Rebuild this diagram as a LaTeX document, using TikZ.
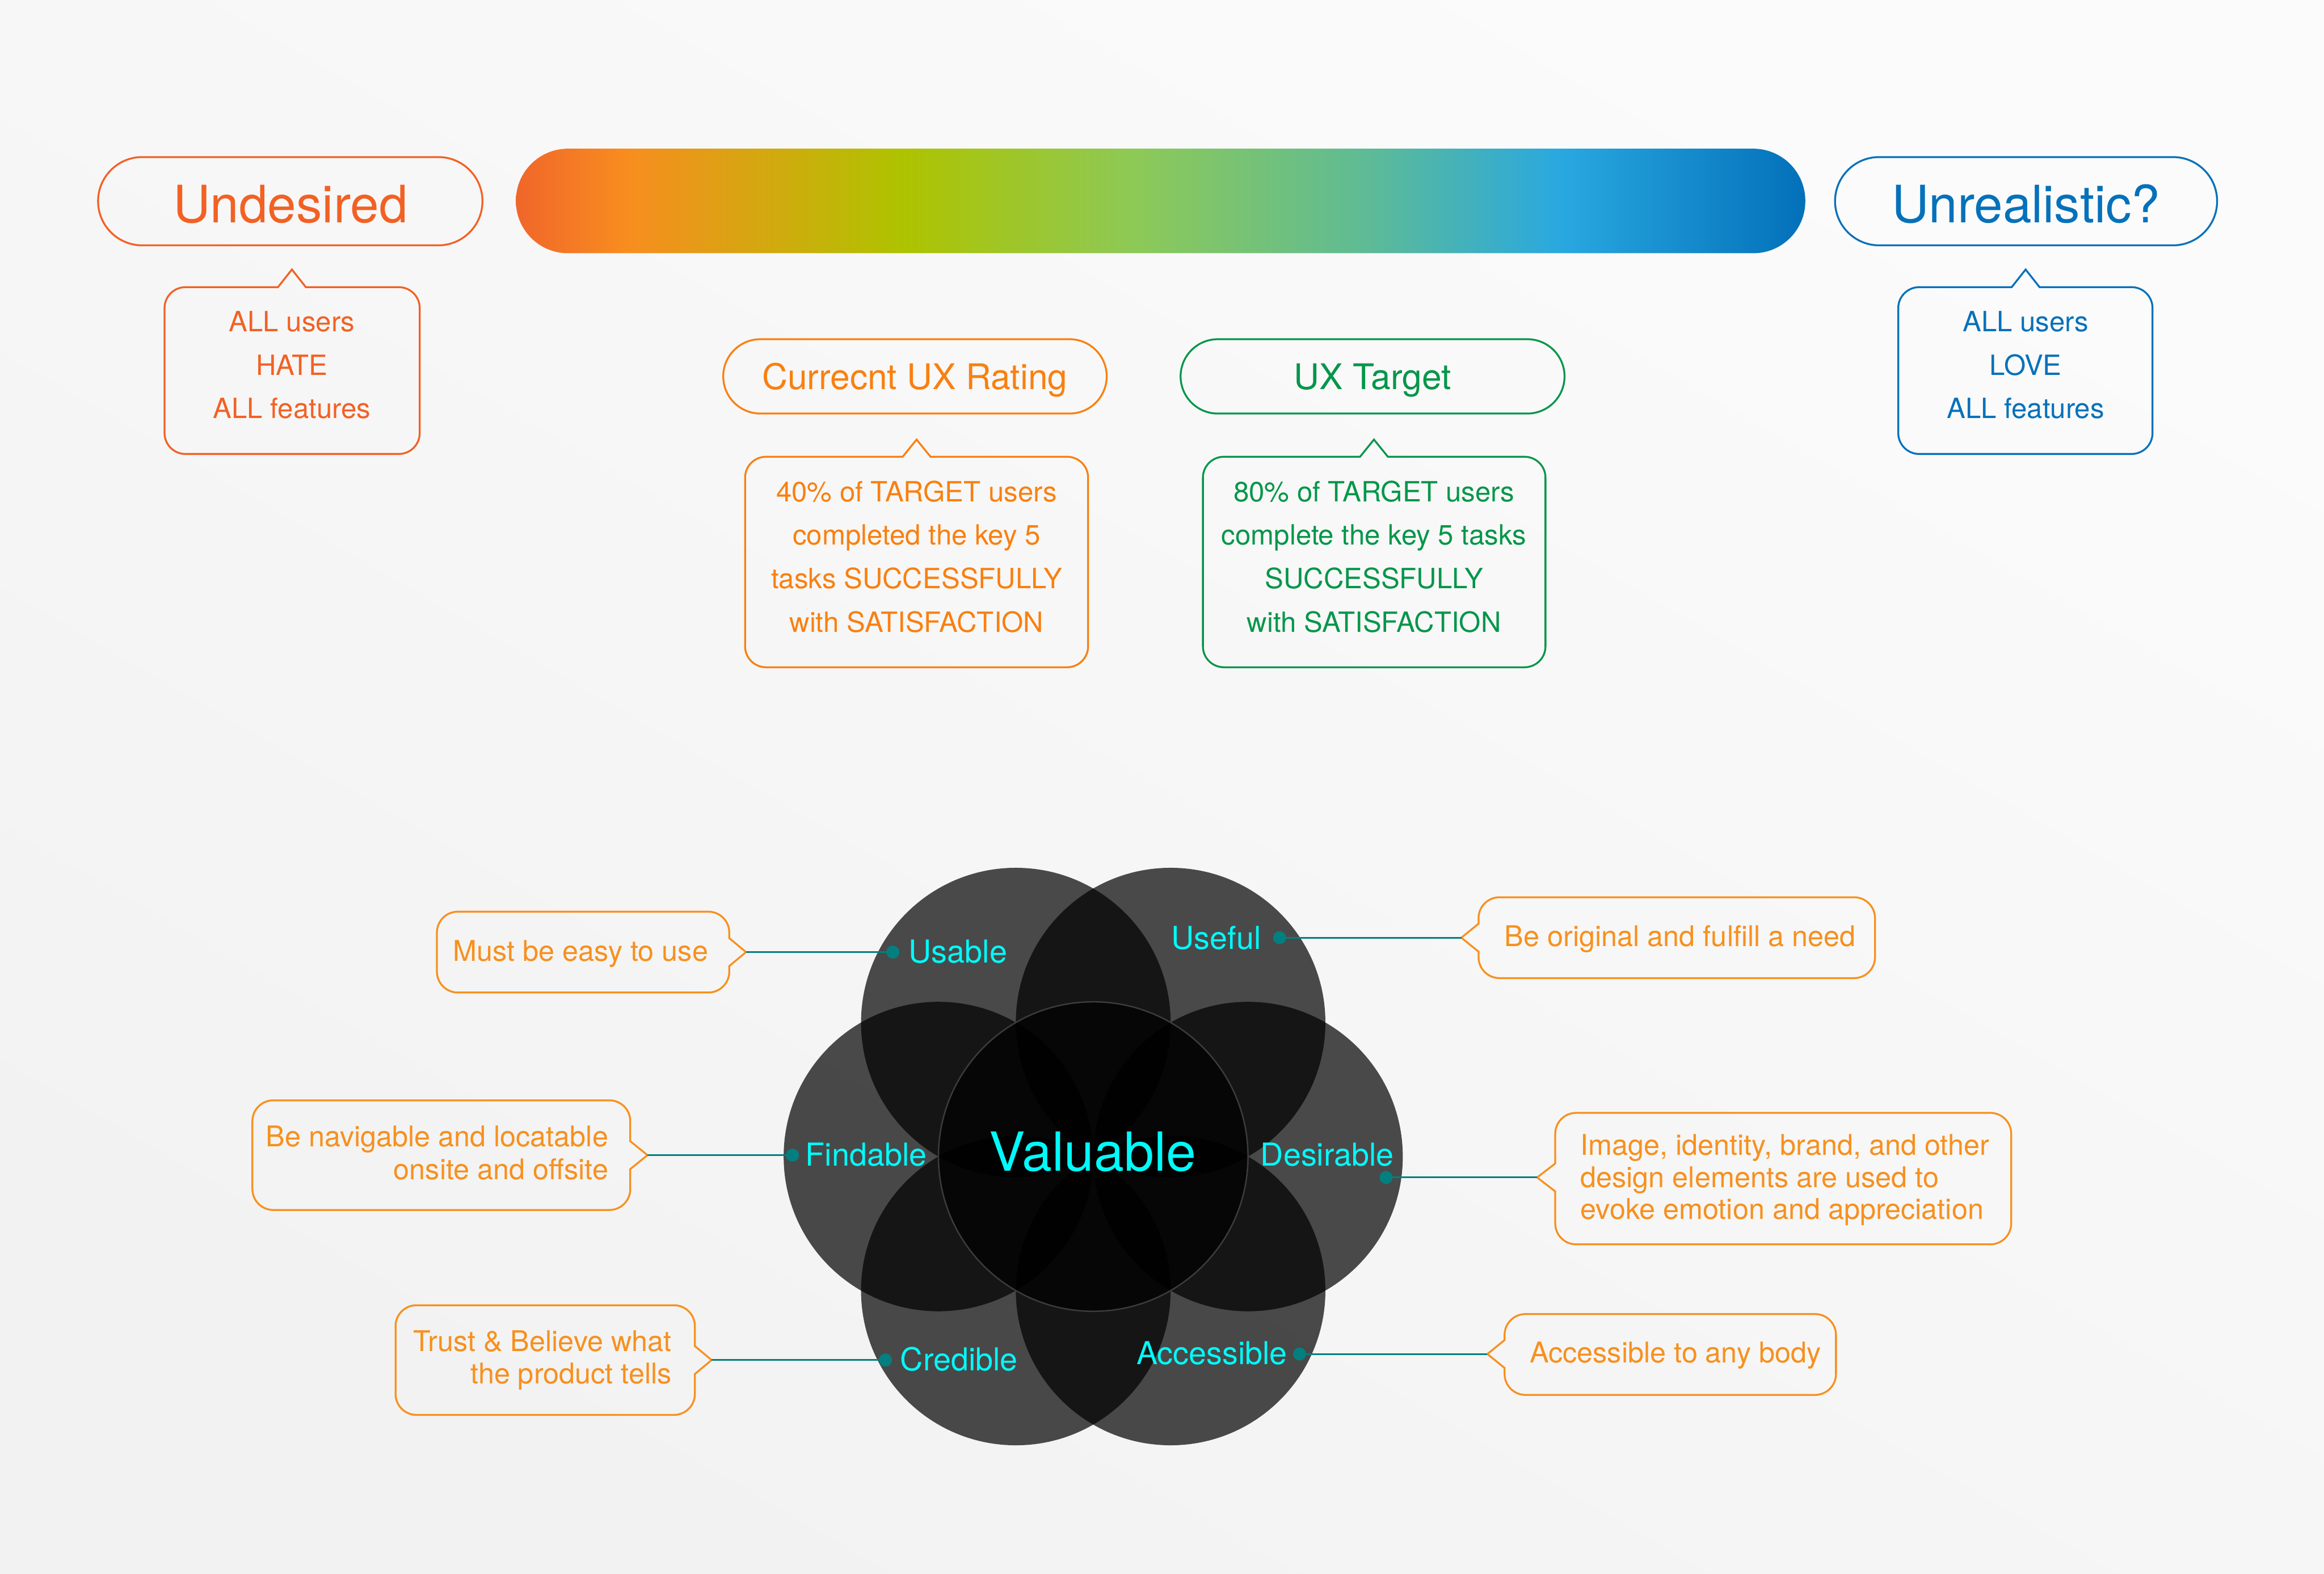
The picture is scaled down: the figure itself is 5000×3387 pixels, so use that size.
\documentclass[tikz,border=0pt]{standalone}
\usepackage{fontspec}
\setmainfont{TeX Gyre Heros}
\definecolor{undred}{HTML}{F26124}
\definecolor{uxblue}{HTML}{0571BA}
\definecolor{curorange}{HTML}{F98010}
\definecolor{uxgreen}{HTML}{05964A}
\definecolor{callor}{HTML}{F7901E}
\definecolor{labcyan}{HTML}{00FAFA}
\definecolor{tealdot}{HTML}{047F7F}
\definecolor{bgT}{HTML}{FBFBFB}
\definecolor{bgB}{HTML}{F2F2F2}
\definecolor{coreline}{HTML}{3C3C3C}
\definecolor{gA}{HTML}{F0662A}
\definecolor{gB}{HTML}{F88D1F}
\definecolor{gC}{HTML}{AEC300}
\definecolor{gD}{HTML}{8DC957}
\definecolor{gE}{HTML}{5EBB96}
\definecolor{gF}{HTML}{29A8E0}
\definecolor{gG}{HTML}{0370BA}
\pgfdeclarehorizontalshading{uxbar}{100bp}{color(0bp)=(gA); color(25bp)=(gA); color(29.3bp)=(gB); color(40bp)=(gC); color(49bp)=(gD); color(58bp)=(gE); color(65.5bp)=(gF); color(75bp)=(gG); color(100bp)=(gG)}
\newcommand\fsz[1]{\fontsize{#1}{#1}\selectfont}
% callout with notch on top: colour, x1,y1,x2,y2, apex x, apex y
\newcommand\CalloutUp[7]{%
  \draw[cline,#1] (#2+45,#3) -- (#6-30,#3) -- (#6,#7) -- (#6+30,#3) -- (#4-45,#3)
    arc[start angle=270,end angle=360,radius=45] -- (#4,#5-45)
    arc[start angle=0,end angle=90,radius=45] -- (#2+45,#5)
    arc[start angle=90,end angle=180,radius=45] -- (#2,#3+45)
    arc[start angle=180,end angle=270,radius=45] -- cycle;}
% callout with pointer on the right side
\newcommand\CalloutRight[7]{%
  \draw[cline,#1] (#2+45,#3) -- (#4-45,#3)
    arc[start angle=270,end angle=360,radius=45] -- (#4,#7-30) -- (#6,#7) -- (#4,#7+30) -- (#4,#5-45)
    arc[start angle=0,end angle=90,radius=45] -- (#2+45,#5)
    arc[start angle=90,end angle=180,radius=45] -- (#2,#3+45)
    arc[start angle=180,end angle=270,radius=45] -- cycle;}
% callout with pointer on the left side
\newcommand\CalloutLeft[7]{%
  \draw[cline,#1] (#2+45,#3) -- (#4-45,#3)
    arc[start angle=270,end angle=360,radius=45] -- (#4,#5-45)
    arc[start angle=0,end angle=90,radius=45] -- (#2+45,#5)
    arc[start angle=90,end angle=180,radius=45] -- (#2,#7+30) -- (#6,#7) -- (#2,#7-30) -- (#2,#3+45)
    arc[start angle=180,end angle=270,radius=45] -- cycle;}
\begin{document}
\begin{tikzpicture}[x=1pt,y=-1pt,
  cline/.style={line width=4pt, line join=miter},
  pillline/.style={line width=4pt},
  title/.style={font=\fsz{111}, inner sep=0, anchor=base},
  sub/.style={font=\fsz{76}, inner sep=0, anchor=base},
  ctext/.style={font=\fsz{60}, inner sep=0, anchor=base},
  btext/.style={font=\fsz{61.5}, inner sep=0, text=callor},
  lab/.style={font=\fsz{68}, inner sep=0, anchor=base west, text=labcyan},
  petal/.style={fill=black, fill opacity=0.7},
  dot/.style={circle, fill=tealdot, inner sep=0, minimum size=28pt},
  conn/.style={draw=tealdot, line width=3.5pt}]
\useasboundingbox (0,0) rectangle (5000,3387);
\shade[top color=bgT, bottom color=bgB, shading angle=-30] (0,0) rectangle (5000,3387);

% gradient bar
\shade[shading=uxbar, rounded corners=112] (1110,320) rectangle (3884,545);

% end pills
\draw[pillline, undred, rounded corners=95] (211,338) rectangle (1038,528);
\node[title, text=undred] (tUnd) at (625,479) {Undesired};
\draw[pillline, uxblue, rounded corners=95] (3948,338) rectangle (4770,528);
\node[title, text=uxblue] (tUnr) at (4359,479) {Unrealistic?};

\CalloutUp{undred}{354}{618}{903}{977}{628}{580}
\node[ctext, text=undred] (und1) at (628,713) {ALL users};
\node[ctext, text=undred] (und2) at (628,807) {HATE};
\node[ctext, text=undred] (und3) at (628,900) {ALL features};

\CalloutUp{uxblue}{4084}{618}{4631}{977}{4358}{580}
\node[ctext, text=uxblue] (unr1) at (4358,713) {ALL users};
\node[ctext, text=uxblue] (unr2) at (4358,807) {LOVE};
\node[ctext, text=uxblue] (unr3) at (4358,900) {ALL features};

% current rating
\draw[pillline, curorange, rounded corners=80] (1556,730) rectangle (2381,890);
\node[sub, text=curorange] (tCur) at (1968,838) {Currecnt UX Rating};
\CalloutUp{curorange}{1603}{983}{2341}{1436}{1972}{946}
\node[ctext, text=curorange] (cur1) at (1972,1080) {40\% of TARGET users};
\node[ctext, text=curorange] (cur2) at (1972,1173) {completed the key 5};
\node[ctext, text=curorange] (cur3) at (1972,1266) {tasks SUCCESSFULLY};
\node[ctext, text=curorange] (cur4) at (1972,1361) {with SATISFACTION};

% target
\draw[pillline, uxgreen, rounded corners=80] (2540,730) rectangle (3366,890);
\node[sub, text=uxgreen] (tTar) at (2953,838) {UX Target};
\CalloutUp{uxgreen}{2588}{983}{3325}{1436}{2956}{946}
\node[ctext, text=uxgreen] (tar1) at (2956,1080) {80\% of TARGET users};
\node[ctext, text=uxgreen] (tar2) at (2956,1173) {complete the key 5 tasks};
\node[ctext, text=uxgreen] (tar3) at (2956,1266) {SUCCESSFULLY};
\node[ctext, text=uxgreen] (tar4) at (2956,1361) {with SATISFACTION};

% flower
\foreach \a in {0,60,...,300}
  \fill[petal] (2352,2489) ++(\a:333) circle[radius=333];
\fill[petal] (2352,2489) circle[radius=333];
\draw[coreline, line width=3pt] (2352,2489) circle[radius=333];

\node[lab] (lUsable) at (1955,2072) {Usable};
\node[lab] (lUseful) at (2520,2043) {Useful};
\node[lab] (lFind) at (1733,2509) {Findable};
\node[lab] (lDes) at (2712,2509) {Desirable};
\node[lab] (lCred) at (1937,2950) {Credible};
\node[lab] (lAcc) at (2445,2936) {Accessible};
\node[font=\fsz{116}, inner sep=0, anchor=base, text=labcyan] (lVal) at (2351,2520) {Valuable};

% dots
\node[dot] (dUsable) at (1921,2049) {};
\node[dot] (dUseful) at (2753,2018) {};
\node[dot] (dFind) at (1705,2486) {};
\node[dot] (dDes) at (2982,2534) {};
\node[dot] (dCred) at (1905,2927) {};
\node[dot] (dAcc) at (2796,2914) {};

% side callouts
\CalloutRight{callor}{940}{1962}{1569}{2136}{1605}{2049}
\coordinate (aUsable) at (1605,2049);
\node[btext, anchor=base west] (cUsable) at (974,2068) {Must be easy to use};

\CalloutRight{callor}{543}{2368}{1356}{2604}{1393}{2486}
\coordinate (aFind) at (1393,2486);
\node[btext, anchor=base east] (cFind1) at (1309,2468) {Be navigable and locatable};
\node[btext, anchor=base east] (cFind2) at (1309,2538) {onsite and offsite};

\CalloutRight{callor}{851}{2809}{1495}{3045}{1531}{2927}
\coordinate (aCred) at (1531,2927);
\node[btext, anchor=base east] (cCred1) at (1445,2908) {Trust \& Believe what};
\node[btext, anchor=base east] (cCred2) at (1445,2978) {the product tells};

\CalloutLeft{callor}{3181}{1931}{4034}{2105}{3144}{2018}
\coordinate (aUseful) at (3144,2018);
\node[btext, anchor=base west] (cUseful) at (3237,2037) {Be original and fulfill a need};

\CalloutLeft{callor}{3346}{2395}{4327}{2678}{3307}{2534}
\coordinate (aDes) at (3307,2534);
\node[btext, anchor=base west] (cDes1) at (3400,2486) {Image, identity, brand, and other};
\node[btext, anchor=base west] (cDes2) at (3400,2556) {design elements are used to};
\node[btext, anchor=base west] (cDes3) at (3400,2624) {evoke emotion and appreciation};

\CalloutLeft{callor}{3237}{2828}{3950}{3002}{3200}{2914}
\coordinate (aAcc) at (3200,2914);
\node[btext, anchor=base west] (cAcc) at (3291,2933) {Accessible to any body};

% connectors
\draw[conn] (aUsable) -- (dUsable.center);
\draw[conn] (aFind) -- (dFind.center);
\draw[conn] (aCred) -- (dCred.center);
\draw[conn] (dUseful.center) -- (aUseful);
\draw[conn] (dDes.center) -- (aDes);
\draw[conn] (dAcc.center) -- (aAcc);
\end{tikzpicture}
\end{document}
